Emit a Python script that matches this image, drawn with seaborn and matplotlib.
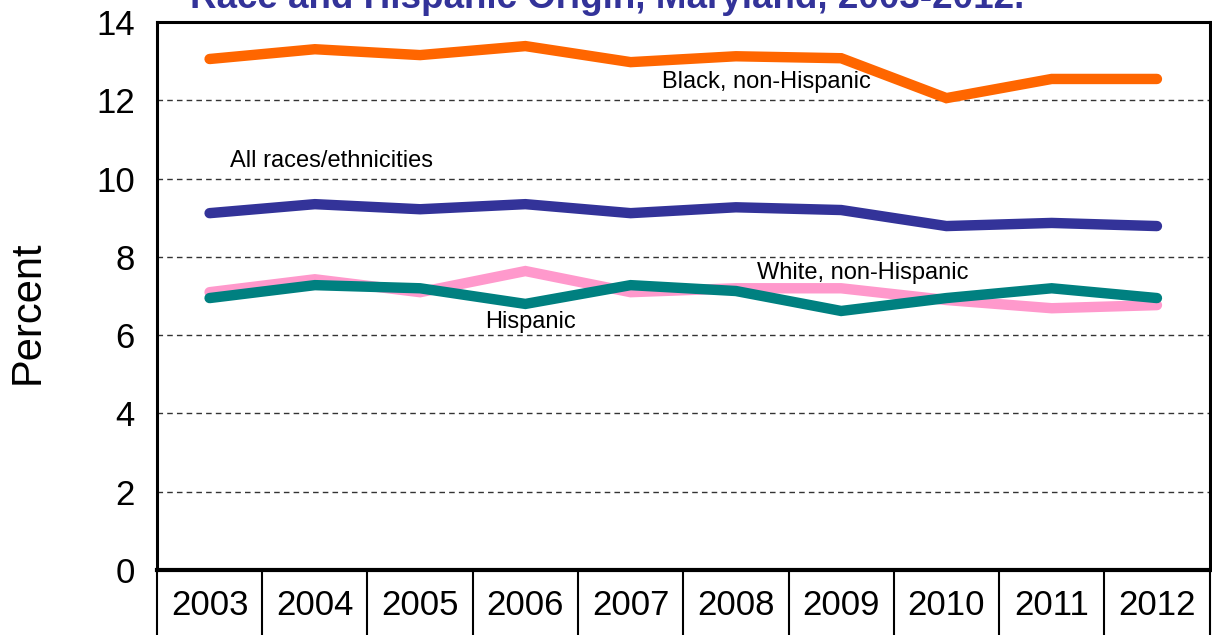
import matplotlib
matplotlib.use('Agg')
import matplotlib.pyplot as plt
from matplotlib.ticker import FixedLocator
import pandas as pd
import seaborn as sns

# data
years = ['2003', '2004', '2005', '2006', '2007', '2008', '2009', '2010', '2011', '2012']
black = [13.06, 13.31, 13.16, 13.39, 12.98, 13.13, 13.08, 12.06, 12.55, 12.55]
all_races = [9.12, 9.35, 9.22, 9.35, 9.12, 9.27, 9.20, 8.79, 8.87, 8.79]
white = [7.10, 7.43, 7.10, 7.64, 7.10, 7.20, 7.20, 6.90, 6.69, 6.77]
hispanic = [6.95, 7.28, 7.20, 6.80, 7.28, 7.13, 6.62, 6.95, 7.20, 6.95]

series = ['Black, non-Hispanic', 'All races/ethnicities', 'White, non-Hispanic', 'Hispanic']
colors = ['#FF6600', '#333399', '#FF99CC', '#008080']

rows = []
for name, vals in zip(series, [black, all_races, white, hispanic]):
    for i, v in enumerate(vals):
        rows.append({'pos': i, 'year': years[i], 'pct': v, 'group': name})
df = pd.DataFrame(rows)

sns.set_style('white')
plt.rcParams['font.family'] = ['Liberation Sans', 'DejaVu Sans']
plt.rcParams['text.color'] = 'black'
plt.rcParams['xtick.color'] = 'black'
plt.rcParams['ytick.color'] = 'black'
plt.rcParams['axes.labelcolor'] = 'black'

fig = plt.figure(figsize=(12.12, 6.35), dpi=100)
ax = fig.add_axes([0.1295, 0.1024, 0.8685, 0.8626])

# grid first so lines sit on top
for g in [2, 4, 6, 8, 10, 12]:
    ax.axhline(g, color='#333333', lw=1.0, ls=(0, (4, 3)), zorder=1)

# draw in order so teal sits over pink
sns.lineplot(data=df, x='pos', y='pct', hue='group', hue_order=series,
             palette=colors, linewidth=7.5, legend=False, ax=ax,
             solid_capstyle='round', solid_joinstyle='miter', zorder=3)

ax.set_xlim(-0.5, 9.5)
ax.set_ylim(0, 14)
ax.set_yticks(range(0, 16, 2))
ax.tick_params(axis='y', left=True, length=0, pad=16, labelsize=25)

# year boxes below the axis
ax.xaxis.set_major_locator(FixedLocator([i - 0.5 for i in range(11)]))
ax.xaxis.set_minor_locator(FixedLocator(range(10)))
ax.set_xticklabels([])
ax.set_xticklabels(years, minor=True)
ax.tick_params(axis='x', which='major', bottom=True, length=80, width=1.5,
               color='black', direction='out')
ax.tick_params(axis='x', which='minor', bottom=True, length=0, pad=14, labelsize=25)

ax.set_xlabel('')
ax.set_ylabel('Percent', fontsize=30)
ax.yaxis.set_label_coords(-0.1035, 0.47)

for s in ax.spines.values():
    s.set_visible(True)
    s.set_color('black')
    s.set_linewidth(2.2)
ax.spines['bottom'].set_linewidth(3)

# inline labels
ax.text(4.3, 12.47, 'Black, non-Hispanic', fontsize=17, ha='left', va='center')
ax.text(0.19, 10.45, 'All races/ethnicities', fontsize=17, ha='left', va='center')
ax.text(5.2, 7.59, 'White, non-Hispanic', fontsize=17, ha='left', va='center')
ax.text(2.62, 6.34, 'Hispanic', fontsize=17, ha='left', va='center')

fig.text(0.157, 1.003, 'Race and Hispanic Origin, Maryland, 2003-2012.',
         fontsize=26.5, fontweight='bold', color='#333399', ha='left', va='center')

fig.savefig('out.png', dpi=100)
